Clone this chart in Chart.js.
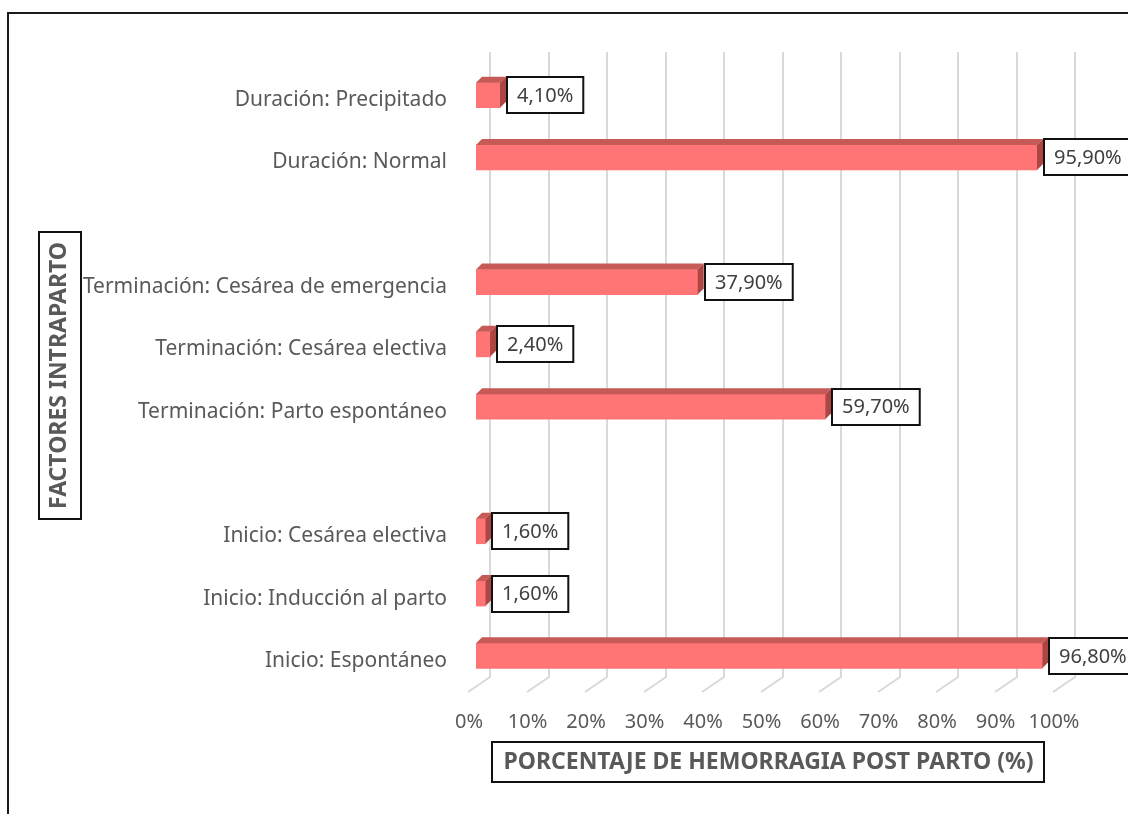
<!DOCTYPE html>
<html><head><meta charset="utf-8">
<script src="https://cdn.jsdelivr.net/npm/chart.js@4.4.0/dist/chart.umd.min.js"></script>
<style>html,body{margin:0;padding:0;background:#fff;overflow:hidden}canvas{display:block}</style>
</head><body>
<canvas id="c" width="1128" height="814"></canvas>
<script>
const categories = ['Duración: Precipitado','Duración: Normal','','Terminación: Cesárea de emergencia','Terminación: Cesárea electiva','Terminación: Parto espontáneo','','Inicio: Cesárea electiva','Inicio: Inducción al parto','Inicio: Espontáneo'];
const percentages = [4.1, 95.9, null, 37.9, 2.4, 59.7, null, 1.6, 1.6, 96.8];
const xTickValues = [0,10,20,30,40,50,60,70,80,90,100];
const xTitle = 'PORCENTAJE DE HEMORRAGIA POST PARTO (%)';
const yTitle = 'FACTORES INTRAPARTO';

const FONT = 'Noto Sans';
const DEPTH = 6;
const TITLE_SIZE = 23;
const fmt = v => v.toFixed(2).replace('.', ',') + '%';

const bar3d = {
  id: 'bar3d',
  beforeDraw(chart) {
    const ctx = chart.ctx;
    ctx.save();
    ctx.fillStyle = '#fff';
    ctx.fillRect(0, 0, chart.width, chart.height);
    ctx.strokeStyle = '#1a1a1a';
    ctx.lineWidth = 2;
    ctx.strokeRect(8, 13, chart.width + 50, chart.height + 50);
    ctx.restore();
  },
  beforeDatasetsDraw(chart) {
    const {ctx, chartArea: a, scales: {x}} = chart;
    ctx.save();
    ctx.strokeStyle = '#d9d9d9';
    ctx.lineWidth = 2;
    xTickValues.forEach(v => {
      const px = Math.round(x.getPixelForValue(v));
      ctx.beginPath();
      ctx.moveTo(px + 14, a.top - 12);
      ctx.lineTo(px + 14, a.bottom - 10);
      ctx.lineTo(px - 8, a.bottom + 5);
      ctx.stroke();
    });
    ctx.restore();
  },
  afterDatasetsDraw(chart) {
    const ctx = chart.ctx;
    const meta = chart.getDatasetMeta(0);
    ctx.save();
    meta.data.forEach((el, i) => {
      const v = percentages[i];
      if (v == null) return;
      const {x, y, base, height} = el.getProps(['x', 'y', 'base', 'height'], true);
      const t = y - height / 2, b = y + height / 2;
      ctx.fillStyle = '#c55a57';
      ctx.beginPath();
      ctx.moveTo(base, t); ctx.lineTo(base + DEPTH, t - DEPTH);
      ctx.lineTo(x + DEPTH, t - DEPTH); ctx.lineTo(x, t); ctx.closePath(); ctx.fill();
      ctx.fillStyle = '#ad4542';
      ctx.beginPath();
      ctx.moveTo(x, t); ctx.lineTo(x + DEPTH, t - DEPTH);
      ctx.lineTo(x + DEPTH, b - DEPTH); ctx.lineTo(x, b); ctx.closePath(); ctx.fill();
      const txt = fmt(v);
      ctx.font = '20px "' + FONT + '"';
      const w = ctx.measureText(txt).width + 20;
      const h = 36;
      const bx = Math.round(x + DEPTH + 1), by = Math.round(y - h / 2);
      ctx.fillStyle = '#fff';
      ctx.fillRect(bx, by, w, h);
      ctx.strokeStyle = '#111';
      ctx.lineWidth = 2;
      ctx.strokeRect(bx, by, w, h);
      ctx.fillStyle = '#404040';
      ctx.textAlign = 'left';
      ctx.textBaseline = 'middle';
      ctx.fillText(txt, bx + 10, y + 1);
    });
    ctx.restore();
  },
  afterDraw(chart) {
    const ctx = chart.ctx;
    const {x, y} = chart.scales;
    ctx.save();
    ctx.font = 'bold ' + TITLE_SIZE + 'px "' + FONT + '"';
    ctx.strokeStyle = '#111';
    ctx.lineWidth = 2;
    const lh = TITLE_SIZE * 1.2;
    const xw = ctx.measureText(xTitle).width + 22;
    const xcx = (x.left + x.right) / 2, xcy = x.bottom - 38 - lh / 2;
    ctx.strokeRect(Math.round(xcx - xw / 2), Math.round(xcy - 20), Math.round(xw), 40);
    const yh = ctx.measureText(yTitle).width + 20;
    const ycx = y.left + 46 + lh / 2, ycy = (y.top + y.bottom) / 2;
    ctx.strokeRect(Math.round(ycx - 21), Math.round(ycy - yh / 2), 42, Math.round(yh));
    ctx.restore();
  }
};

new Chart(document.getElementById('c'), {
  type: 'bar',
  data: {
    labels: categories,
    datasets: [{
      data: percentages,
      backgroundColor: '#ff7474',
      borderWidth: 0,
      barThickness: 25
    }]
  },
  options: {
    responsive: false,
    animation: false,
    devicePixelRatio: 1,
    indexAxis: 'y',
    layout: {padding: {top: 64, right: 67, bottom: 0, left: 0}},
    plugins: {legend: {display: false}, tooltip: {enabled: false}},
    scales: {
      x: {
        min: 0, max: 100,
        grid: {display: false, drawTicks: false},
        border: {display: false},
        afterBuildTicks(s) { s.ticks = xTickValues.map(v => ({value: v})); },
        ticks: {
          padding: 23, labelOffset: -7, color: '#595959', maxRotation: 0, autoSkip: false,
          font: {family: FONT, size: 20},
          callback: v => v + '%'
        },
        title: {
          display: true, text: xTitle, color: '#595959',
          font: {family: FONT, size: TITLE_SIZE, weight: 'bold'},
          padding: {top: 0, bottom: 38}
        },
        afterFit(s) { s.height = 127; }
      },
      y: {
        grid: {display: false, drawTicks: false},
        border: {display: false},
        ticks: {
          padding: 29, labelOffset: 5, color: '#595959', autoSkip: false,
          font: {family: FONT, size: 21}
        },
        title: {
          display: true, text: yTitle, color: '#595959',
          font: {family: FONT, size: TITLE_SIZE, weight: 'bold'},
          padding: {top: 46, bottom: 0}
        },
        afterFit(s) { s.width = 476; }
      }
    }
  },
  plugins: [bar3d]
});
</script>
</body></html>
